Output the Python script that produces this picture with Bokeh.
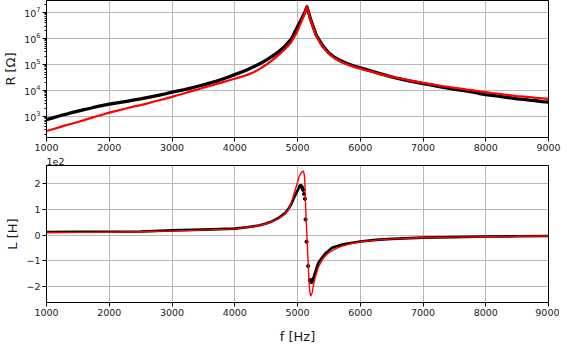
import math
from bokeh.plotting import figure
from bokeh.layouts import column
from bokeh.models import Range1d, FixedTicker, LogTicker
from bokeh.embed import file_html
from bokeh.resources import INLINE

# ---------------- data ----------------
f_R = [1000, 1100, 1200, 1300, 1400, 1500, 1600, 1700, 1800, 1900,
       2000, 2100, 2200, 2300, 2400, 2500, 2600, 2700, 2800, 2900,
       3000, 3100, 3200, 3300, 3400, 3500, 3600, 3700, 3800, 3900,
       4000, 4100, 4200, 4300, 4400, 4500, 4600, 4700, 4800, 4900,
       5000, 5050, 5100, 5125, 5150, 5175, 5200, 5250, 5300,
       5400, 5500, 5600, 5700, 5800, 5900, 6000, 6100, 6200, 6300,
       6400, 6500, 6600, 6700, 6800, 6900, 7000, 7100, 7200, 7300,
       7400, 7500, 7600, 7700, 7800, 7900, 8000, 8100, 8200, 8300,
       8400, 8500, 8600, 8700, 8800, 8900, 9000]

# measured R, as log10(R / Ohm)
R_meas_log10 = [2.86, 2.93, 3.00, 3.06, 3.13, 3.19, 3.25, 3.30, 3.36, 3.41,
                3.46, 3.50, 3.54, 3.58, 3.62, 3.66, 3.71, 3.76, 3.81, 3.86,
                3.92, 3.97, 4.02, 4.08, 4.14, 4.20, 4.27, 4.34, 4.42, 4.51,
                4.60, 4.69, 4.79, 4.90, 5.02, 5.16, 5.31, 5.48, 5.70, 5.97,
                6.45, 6.68, 6.92, 7.06, 7.22, 7.02, 6.80, 6.45, 6.12,
                5.72, 5.43, 5.25, 5.12, 5.02, 4.93, 4.86, 4.79, 4.72, 4.65,
                4.58, 4.51, 4.45, 4.40, 4.35, 4.30, 4.25, 4.21, 4.16, 4.12,
                4.08, 4.03, 4.00, 3.96, 3.92, 3.87, 3.83, 3.80, 3.77, 3.73,
                3.70, 3.66, 3.64, 3.61, 3.59, 3.56, 3.54]

# fitted R, as log10(R / Ohm)
R_fit_log10 = [2.42, 2.49, 2.56, 2.64, 2.70, 2.77, 2.84, 2.92, 2.99, 3.06,
               3.13, 3.19, 3.25, 3.31, 3.37, 3.42, 3.48, 3.55, 3.61, 3.67,
               3.74, 3.81, 3.88, 3.95, 4.02, 4.09, 4.16, 4.23, 4.30, 4.37,
               4.44, 4.51, 4.59, 4.69, 4.82, 4.98, 5.16, 5.36, 5.58, 5.85,
               6.28, 6.58, 6.88, 7.05, 7.22, 7.00, 6.78, 6.42, 6.08,
               5.68, 5.40, 5.22, 5.08, 4.98, 4.90, 4.83, 4.76, 4.70, 4.63,
               4.57, 4.52, 4.47, 4.42, 4.37, 4.33, 4.28, 4.24, 4.20, 4.16,
               4.13, 4.09, 4.06, 4.02, 3.99, 3.95, 3.92, 3.89, 3.86, 3.83,
               3.80, 3.77, 3.75, 3.73, 3.70, 3.68, 3.66]

# measured L (H)
f_L_meas = [1000, 1500, 2000, 2500, 3000, 3500, 4000, 4200, 4400, 4500,
            4600, 4700, 4800, 4850, 4900, 4950, 5000, 5020, 5040, 5055,
            5075, 5090, 5104, 5118, 5129, 5145, 5170, 5197, 5212, 5224,
            5240, 5260, 5290, 5313, 5340, 5400, 5450, 5500, 5550, 5600,
            5700, 5800, 5900, 6000, 6250, 6500, 7000, 7500, 8000, 8500, 9000]
L_meas = [12, 12.5, 13, 14, 18, 21, 25, 30, 38, 45,
          54, 67, 85, 100, 120, 148, 173, 183, 190, 191,
          185, 176, 160, 141, 61, -26, -121, -175, -181, -183,
          -175, -162, -140, -121, -105, -85, -70, -60, -50, -46,
          -38, -33, -29, -25, -19, -15, -10, -8, -6, -5, -4]

# fitted L (H)
f_L_fit = [1000, 1500, 2000, 2500, 3000, 3500, 4000, 4200, 4400, 4500,
           4600, 4700, 4800, 4850, 4900, 4950, 4975, 5000, 5025, 5050,
           5075, 5095, 5110, 5120, 5130, 5142, 5155, 5168, 5181, 5195,
           5208, 5222, 5234, 5261, 5300, 5340, 5400, 5450, 5500, 5600,
           5700, 5800, 5900, 6000, 6250, 6500, 7000, 7500, 8000, 8500, 9000]
L_fit = [10, 10.5, 11, 13, 16, 19, 24, 30, 38, 44,
         53, 64, 82, 98, 125, 165, 185, 205, 228, 240,
         247, 249, 232, 190, 115, 40, -30, -100, -165, -220,
         -237, -232, -225, -186, -150, -121, -95, -80, -69, -54,
         -44, -37, -31, -27, -20, -15, -10.5, -8, -6.6, -5, -4]

x_ticks = [1000, 2000, 3000, 4000, 5000, 6000, 7000, 8000, 9000]
L_ticks = [-200, -100, 0, 100, 200]
L_tick_labels = ["\u22122", "\u22121", "0", "1", "2"]
L_offset_text = "1e2"
R_label = "R [\u03a9]"
L_label = "L [H]"
f_label = "f [Hz]"

# ---------------- styling helpers ----------------
FONT = "DejaVu Sans"
TXT = "#1a1a1a"
GRID = "#b8b8b8"


def style(p):
    p.outline_line_color = "black"
    p.outline_line_width = 1
    p.background_fill_color = "white"
    p.border_fill_color = "white"
    for g in (p.xgrid, p.ygrid):
        g.grid_line_color = GRID
        g.grid_line_width = 1
    for ax in p.xaxis + p.yaxis:
        ax.axis_line_color = "black"
        ax.major_tick_line_color = "black"
        ax.minor_tick_line_color = "black"
        ax.major_tick_in = 0
        ax.major_tick_out = 4
        ax.minor_tick_in = 0
        ax.minor_tick_out = 0
        ax.major_label_text_font = FONT
        ax.major_label_text_font_size = "9.5px"
        ax.major_label_text_color = TXT
        ax.major_label_standoff = 2
        ax.axis_label_text_font = FONT
        ax.axis_label_text_font_size = "13px"
        ax.axis_label_text_font_style = "normal"
        ax.axis_label_text_color = TXT
        ax.axis_label_standoff = 3
    p.xaxis.ticker = FixedTicker(ticks=x_ticks)


FW = 502

# ---------------- top panel : R ----------------
p1 = figure(frame_width=FW, frame_height=137, y_axis_type="log",
            x_range=Range1d(1000, 9000), y_range=Range1d(148, 2.9e7),
            output_backend="svg", toolbar_location=None,
            min_border_left=40, min_border_right=13, min_border_top=0,
            min_border_bottom=18)
style(p1)
p1.yaxis.ticker = LogTicker(num_minor_ticks=10)
p1.yaxis.minor_tick_out = 2
p1.yaxis.axis_label = R_label

R_meas = [10 ** v for v in R_meas_log10]
R_fit = [10 ** v for v in R_fit_log10]
p1.line(f_R, R_meas, line_color="black", line_width=3.3, line_join="round")
p1.line(f_R, R_fit, line_color="#ff0000", line_width=2.2, line_join="round")

# ---------------- bottom panel : L ----------------
p2 = figure(frame_width=FW, frame_height=137,
            x_range=Range1d(1000, 9000), y_range=Range1d(-263, 271),
            output_backend="svg", toolbar_location=None,
            min_border_left=40, min_border_right=13, min_border_top=0,
            min_border_bottom=10)
style(p2)
p2.yaxis.ticker = FixedTicker(ticks=L_ticks)
p2.yaxis.major_label_overrides = dict(zip(L_ticks, L_tick_labels))
p2.yaxis.axis_label = L_label
p2.xaxis.axis_label = f_label
p2.xaxis.axis_label_standoff = 10
p2.title.text = L_offset_text
p2.title.align = "left"
p2.title.text_font = FONT
p2.title.text_font_size = "9.5px"
p2.title.text_font_style = "normal"
p2.title.text_color = TXT
p2.title.standoff = 1

# dense parts of the measured data drawn as a thick band, sparse part as dots
sparse = [5030 < f < 5250 for f in f_L_meas]
L_band = [float("nan") if 5060 < f < 5240 else v for f, v in zip(f_L_meas, L_meas)]
p2.line(f_L_meas, L_band, line_color="black", line_width=2.6, line_join="round")
p2.scatter([f for f, s in zip(f_L_meas, sparse) if s],
           [v for v, s in zip(L_meas, sparse) if s], size=3.2, color="black")
p2.line(f_L_fit, L_fit, line_color="#ff0000", line_width=1.4, line_join="round")

layout = column(p1, p2, spacing=0)
open("out.html", "w").write(file_html(layout, INLINE))
